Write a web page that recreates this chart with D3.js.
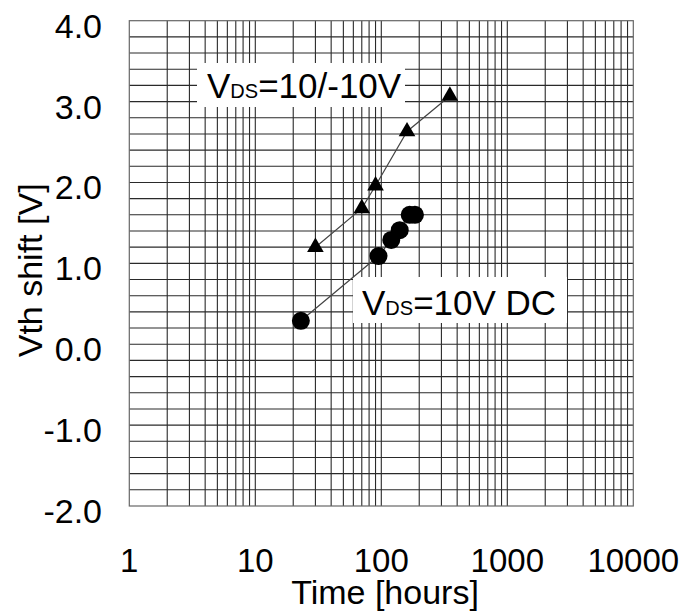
<!DOCTYPE html>
<html>
<head>
<meta charset="utf-8">
<script src="https://cdn.jsdelivr.net/npm/d3@7"></script>
<style>
  body { margin: 0; background: #fff; }
  svg text { font-family: Arial, "Liberation Sans", sans-serif; fill: #000; }
</style>
</head>
<body>
<svg id="chart" width="687" height="612"></svg>
<script>
// data
var timesAC = [ 30, 70, 90, 160, 350 ];          // VDS=10/-10V, hours
var shiftAC = [ 1.2, 1.68, 1.96, 2.63, 3.07 ];
var timesDC = [ 23, 95, 120, 140, 168, 185 ];    // VDS=10V DC, hours
var shiftDC = [ 0.29, 1.09, 1.29, 1.41, 1.6, 1.6 ];

var xTicks = [ 1, 10, 100, 1000, 10000 ];
var xTickLabels = [ "1", "10", "100", "1000", "10000" ];
var yTicks = [ -2, -1, 0, 1, 2, 3, 4 ];
var yTickLabels = [ "-2.0", "-1.0", "0.0", "1.0", "2.0", "3.0", "4.0" ];

// plot box (window.top is taken, so prefix these)
var pLeft = 129.3, pRight = 633.3, pTop = 20.7, pBottom = 506;

var svg = d3.select( "#chart" );

var x = d3.scaleLog().domain( [ 1, 10000 ] ).range( [ pLeft, pRight ] );
var y = d3.scaleLinear().domain( [ -2, 4 ] ).range( [ pBottom, pTop ] );

// vertical grid: 1..9 in every decade, horizontal every 0.2
var xGrid = [];
for ( var d = 1; d < 10000; d *= 10 ) {
    for ( var k = 2; k <= 9; k++ ) xGrid.push( d * k );
}
xGrid = xGrid.concat( [ 10, 100, 1000 ] );
var yGrid = d3.range( -18, 40, 2 ).map( function ( v ) { return v / 10; } );

var grid = svg.append( "g" ).attr( "stroke", "#2a2a2a" ).attr( "stroke-width", 1.1 );
grid.selectAll( "line.v" )
    .data( xGrid )
    .enter().append( "line" )
    .attr( "class", "v" )
    .attr( "x1", function ( d ) { return x( d ); } )
    .attr( "x2", function ( d ) { return x( d ); } )
    .attr( "y1", pTop ).attr( "y2", pBottom );
grid.selectAll( "line.h" )
    .data( yGrid )
    .enter().append( "line" )
    .attr( "class", "h" )
    .attr( "x1", pLeft ).attr( "x2", pRight )
    .attr( "y1", function ( d ) { return y( d ); } )
    .attr( "y2", function ( d ) { return y( d ); } );

svg.append( "rect" )
    .attr( "x", pLeft ).attr( "y", pTop )
    .attr( "width", pRight - pLeft ).attr( "height", pBottom - pTop )
    .attr( "fill", "none" ).attr( "stroke", "#666" ).attr( "stroke-width", 1.2 );

// tick labels
svg.selectAll( "text.xt" )
    .data( xTicks )
    .enter().append( "text" )
    .attr( "class", "xt" )
    .attr( "x", function ( d ) { return x( d ); } )
    .attr( "y", 572 )
    .attr( "text-anchor", "middle" )
    .attr( "font-size", 33 )
    .text( function ( d, i ) { return xTickLabels[ i ]; } );

svg.selectAll( "text.yt" )
    .data( yTicks )
    .enter().append( "text" )
    .attr( "class", "yt" )
    .attr( "x", 102 )
    .attr( "y", function ( d ) { return y( d ) + 17; } )
    .attr( "text-anchor", "end" )
    .attr( "font-size", 34 )
    .text( function ( d, i ) { return yTickLabels[ i ]; } );

// axis titles
svg.append( "text" )
    .attr( "x", 385 ).attr( "y", 604 )
    .attr( "text-anchor", "middle" )
    .attr( "font-size", 34 )
    .text( "Time [hours]" );

svg.append( "text" )
    .attr( "transform", "translate(42," + ( ( pTop + pBottom ) / 2 + 7 ) + ") rotate(-90)" )
    .attr( "text-anchor", "middle" )
    .attr( "font-size", 34 )
    .text( "Vth shift [V]" );

// labels with white boxes
function vdsLabel( bx, by, bw, bh, tx, ty, rest ) {
    svg.append( "rect" )
        .attr( "x", bx ).attr( "y", by ).attr( "width", bw ).attr( "height", bh )
        .attr( "fill", "#fff" );
    var t = svg.append( "text" ).attr( "x", tx ).attr( "y", ty ).attr( "font-size", 35 );
    t.append( "tspan" ).text( "V" );
    t.append( "tspan" ).attr( "font-size", 20 ).text( "DS" );
    t.append( "tspan" ).text( rest );
}
vdsLabel( 197, 63, 208, 44, 207, 98, "=10/-10V" );
vdsLabel( 353, 277, 214, 46, 362, 315, "=10V DC" );

// series lines
var line = d3.line()
    .x( function ( d ) { return x( d[ 0 ] ); } )
    .y( function ( d ) { return y( d[ 1 ] ); } );

var acPts = d3.zip( timesAC, shiftAC );
var dcPts = d3.zip( timesDC, shiftDC );

svg.append( "path" ).datum( acPts ).attr( "d", line )
    .attr( "fill", "none" ).attr( "stroke", "#444" ).attr( "stroke-width", 1.2 );
svg.append( "path" ).datum( dcPts ).attr( "d", line )
    .attr( "fill", "none" ).attr( "stroke", "#444" ).attr( "stroke-width", 1.2 );

// markers
svg.selectAll( "path.tri" )
    .data( acPts )
    .enter().append( "path" )
    .attr( "class", "tri" )
    .attr( "d", d3.symbol().type( d3.symbolTriangle ).size( 120 ) )
    .attr( "transform", function ( d ) { return "translate(" + x( d[ 0 ] ) + "," + y( d[ 1 ] ) + ")"; } )
    .attr( "fill", "#000" );

svg.selectAll( "circle.dot" )
    .data( dcPts )
    .enter().append( "circle" )
    .attr( "class", "dot" )
    .attr( "cx", function ( d ) { return x( d[ 0 ] ); } )
    .attr( "cy", function ( d ) { return y( d[ 1 ] ); } )
    .attr( "r", 9 )
    .attr( "fill", "#000" );
</script>
</body>
</html>
